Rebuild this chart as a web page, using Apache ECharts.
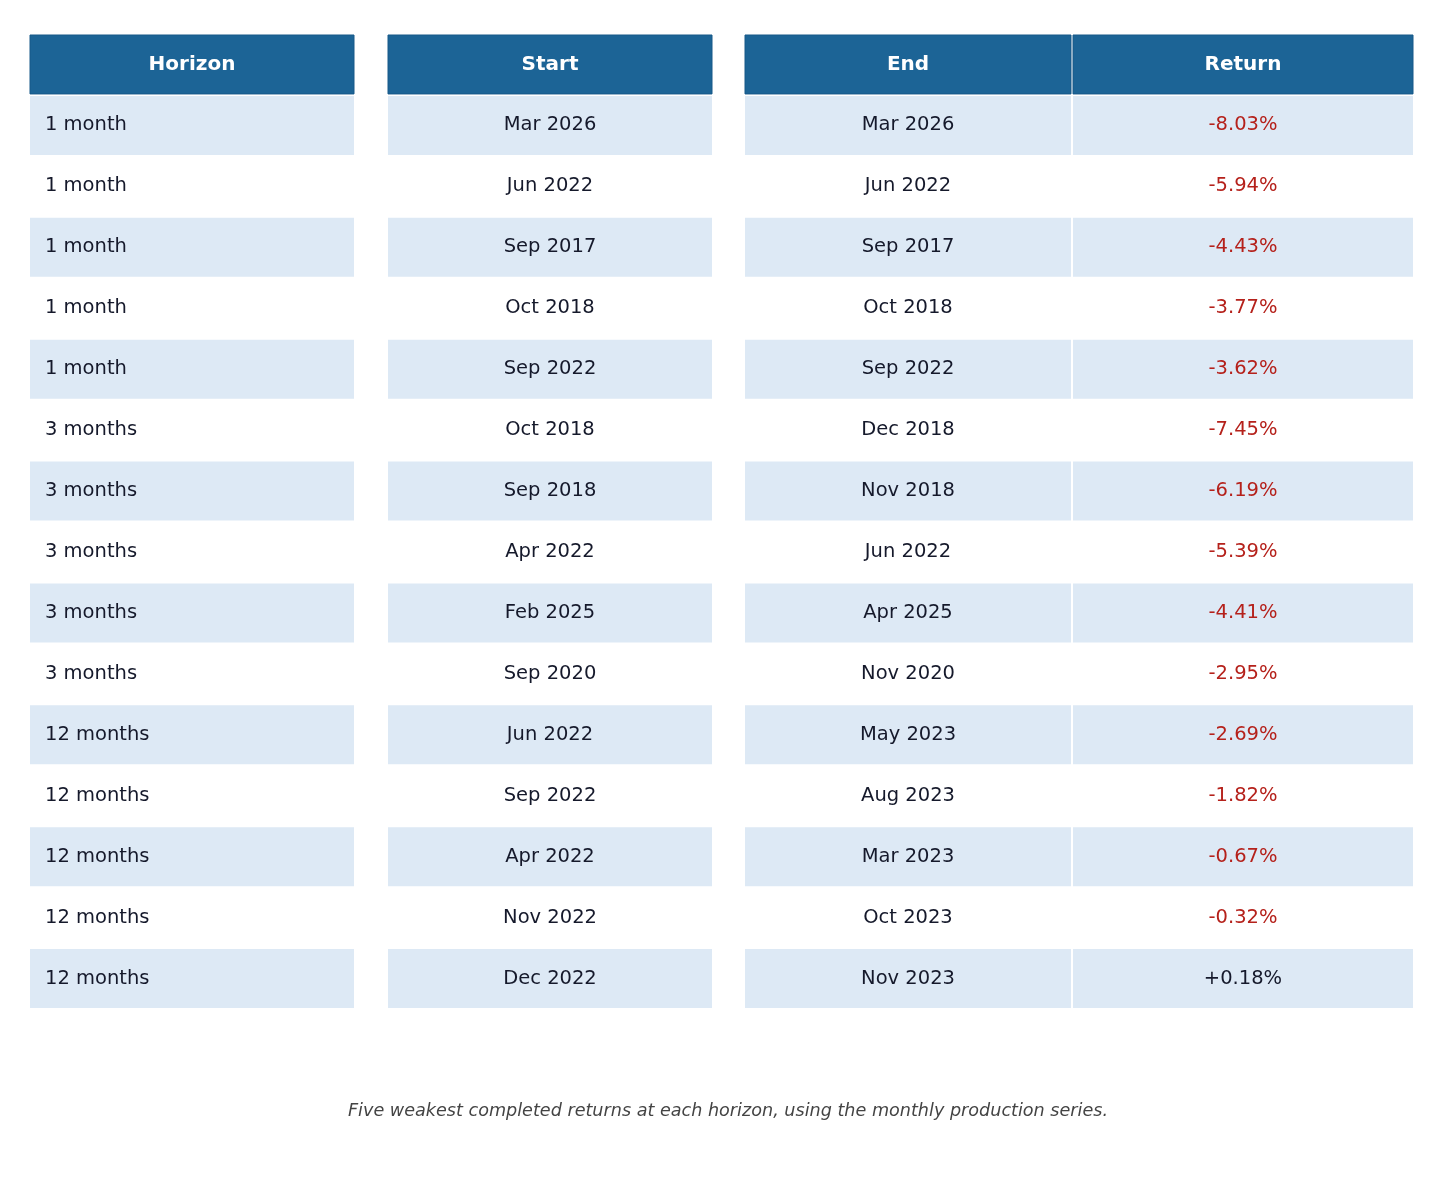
<!DOCTYPE html>
<html>
<head>
<meta charset="utf-8">
<script src="https://cdn.jsdelivr.net/npm/echarts@6/dist/echarts.min.js"></script>
<style>
html,body{margin:0;padding:0;background:#fff;}
#main{width:1456px;height:1189px;}
</style>
</head>
<body>
<div id="main"></div>
<script>
// table data
var headers = ['Horizon', 'Start', 'End', 'Return'];
var horizons = ['1 month','1 month','1 month','1 month','1 month',
    '3 months','3 months','3 months','3 months','3 months',
    '12 months','12 months','12 months','12 months','12 months'];
var starts = ['Mar 2026','Jun 2022','Sep 2017','Oct 2018','Sep 2022',
    'Oct 2018','Sep 2018','Apr 2022','Feb 2025','Sep 2020',
    'Jun 2022','Sep 2022','Apr 2022','Nov 2022','Dec 2022'];
var ends = ['Mar 2026','Jun 2022','Sep 2017','Oct 2018','Sep 2022',
    'Dec 2018','Nov 2018','Jun 2022','Apr 2025','Nov 2020',
    'May 2023','Aug 2023','Mar 2023','Oct 2023','Nov 2023'];
var returns = [-8.03,-5.94,-4.43,-3.77,-3.62,
    -7.45,-6.19,-5.39,-4.41,-2.95,
    -2.69,-1.82,-0.67,-0.32,0.18];
var caption = 'Five weakest completed returns at each horizon, using the monthly production series.';

var fmtRet = function(v){ return (v >= 0 ? '+' : '') + v.toFixed(2) + '%'; };
var columns = [horizons, starts, ends, returns.map(fmtRet)];

var rowCats = ['h'].concat(horizons.map(function(v,i){ return 'r' + i; }));

// column boxes (layout)
var colBox = [
    {left: 29, width: 326},
    {left: 387, width: 326},
    {left: 744, width: 328},
    {left: 1072, width: 342}
];

var HEAD_BG = '#1c6496', LIGHT_BG = '#dde9f5', TXT = '#15192b', RED = '#b5211b';

var chart = echarts.init(document.getElementById('main'));

var grids = [], xAxes = [], yAxes = [], series = [];
colBox.forEach(function(b, j){
    grids.push({left: b.left, width: b.width, top: 34, height: 975});
    xAxes.push({type: 'value', gridIndex: j, min: 0, max: 1, show: false});
    yAxes.push({type: 'category', gridIndex: j, data: rowCats, inverse: true, show: false});
    var data = rowCats.map(function(c, i){ return [0.5, i]; });
    series.push({
        type: 'custom',
        xAxisIndex: j,
        yAxisIndex: j,
        silent: true,
        encode: {x: 0, y: 1},
        data: data,
        renderItem: function(params, api){
            var row = api.value(1);
            var pt = api.coord([0.5, row]);
            var h = api.size([0, 1])[1];
            var cs = params.coordSys;
            var isHead = row === 0;
            var label = isHead ? headers[j] : columns[j][row - 1];
            var fill = isHead ? HEAD_BG : (row % 2 === 1 ? LIGHT_BG : '#ffffff');
            var color = TXT;
            if (isHead) color = '#ffffff';
            else if (j === 3 && returns[row - 1] < 0) color = RED;
            var leftAlign = (j === 0 && !isHead);
            var y0 = pt[1] - h / 2;
            var children = [{
                type: 'rect',
                shape: {x: cs.x, y: y0, width: cs.width, height: h},
                style: {fill: '#ffffff'}
            }, {
                type: 'rect',
                shape: {x: cs.x + 1, y: y0 + 1, width: cs.width - 2, height: h - 2},
                style: isHead ? {fill: fill, stroke: '#175888', lineWidth: 1} : {fill: fill}
            }, {
                type: 'text',
                x: leftAlign ? cs.x + 16 : cs.x + cs.width / 2,
                y: pt[1],
                style: {
                    text: label,
                    fill: color,
                    font: (isHead ? 'bold 20px' : '19.5px') + ' "DejaVu Sans", sans-serif',
                    align: leftAlign ? 'left' : 'center',
                    verticalAlign: 'middle'
                }
            }];
            return {type: 'group', children: children};
        }
    });
});

var option = {
    backgroundColor: '#ffffff',
    animation: false,
    title: {
        text: caption,
        left: 'center',
        top: 1097,
        textStyle: {
            fontFamily: 'DejaVu Sans',
            fontStyle: 'italic',
            fontWeight: 'normal',
            fontSize: 17.6,
            color: '#444444'
        }
    },
    grid: grids,
    xAxis: xAxes,
    yAxis: yAxes,
    series: series
};
chart.setOption(option);
</script>
</body>
</html>
